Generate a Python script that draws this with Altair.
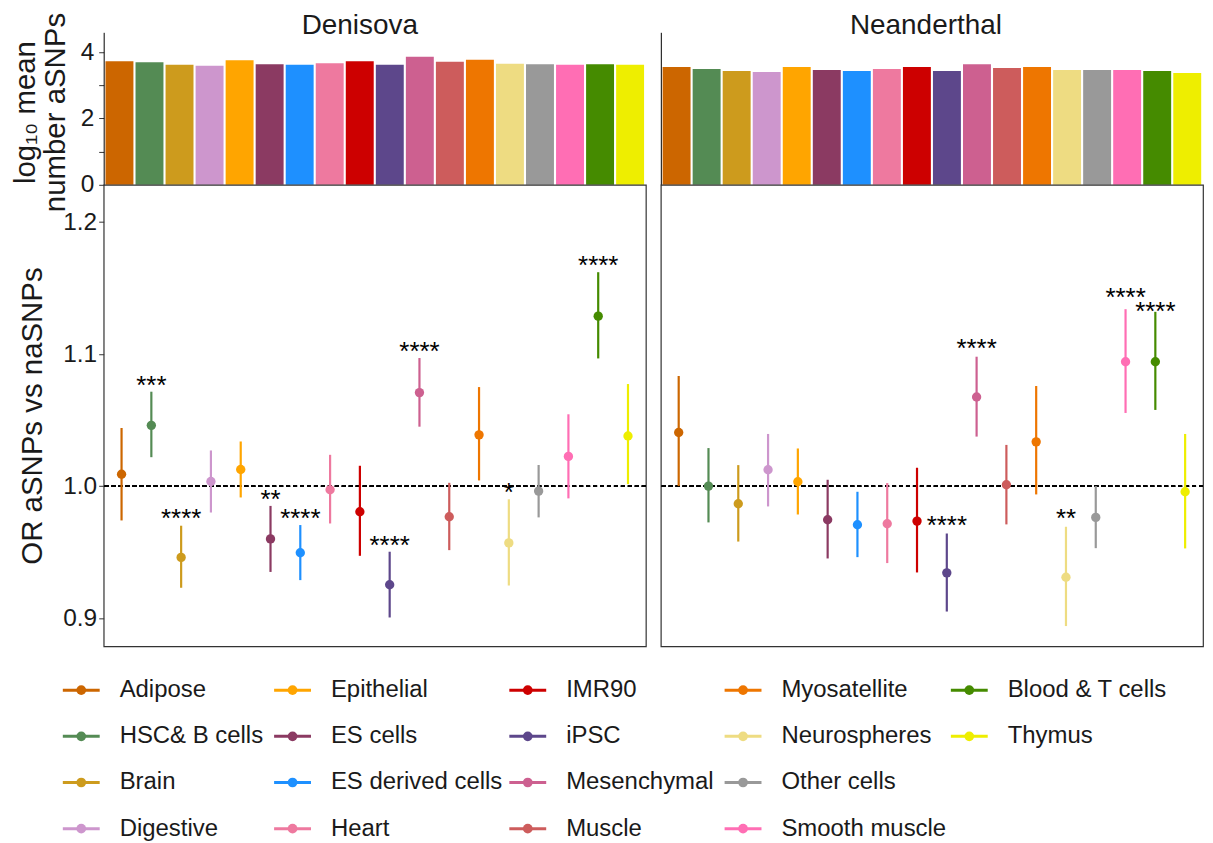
import altair as alt
import pandas as pd

FONT = "Liberation Sans"
INK = "#1a1a1a"

cells = ["Adipose", "HSC& B cells", "Brain", "Digestive", "Epithelial", "ES cells",
         "ES derived cells", "Heart", "IMR90", "iPSC", "Mesenchymal", "Muscle",
         "Myosatellite", "Neurospheres", "Other cells", "Smooth muscle",
         "Blood & T cells", "Thymus"]
palette = ["#CC6600", "#548B54", "#CD9B1D", "#CD96CD", "#FFA500", "#8B3A62",
           "#1E90FF", "#EE799F", "#CD0000", "#5D478B", "#CD6090", "#CD5C5C",
           "#EE7600", "#EEDC82", "#999999", "#FF6EB4", "#458B00", "#EEEE00"]

# log10 mean number of aSNPs
den_bar = [3.73, 3.70, 3.62, 3.59, 3.76, 3.64, 3.62, 3.67, 3.73, 3.62, 3.86, 3.71,
           3.77, 3.65, 3.64, 3.62, 3.64, 3.62]
nea_bar = [3.55, 3.49, 3.43, 3.40, 3.55, 3.46, 3.43, 3.49, 3.55, 3.43, 3.64, 3.52,
           3.55, 3.46, 3.46, 3.46, 3.43, 3.37]

# odds ratios with confidence intervals
den_or = [1.009, 1.046, 0.946, 1.0035, 1.0126, 0.960, 0.9495, 0.9972, 0.9806, 0.9253,
          1.0708, 0.9768, 1.0388, 0.957, 0.9962, 1.0225, 1.1287, 1.038]
den_lo = [0.974, 1.0219, 0.923, 0.980, 0.9914, 0.935, 0.9288, 0.9717, 0.9472, 0.9005,
          1.045, 0.9515, 1.0043, 0.9247, 0.9763, 0.9907, 1.0967, 1.0015]
den_hi = [1.044, 1.0715, 0.970, 1.027, 1.0338, 0.985, 0.9705, 1.0237, 1.0154, 0.9503,
          1.097, 1.0025, 1.075, 0.990, 1.016, 1.0544, 1.162, 1.0773]
den_sig = ["", "***", "****", "", "", "**", "****", "", "", "****", "****", "", "",
           "*", "", "", "****", ""]
den_sig_y = [None, 1.0812, 0.980, None, None, 0.9947, 0.980, None, None, 0.960, 1.1069,
             None, None, 0.9997, None, None, 1.1718, None]

nea_or = [1.0406, 1.0, 0.9866, 1.0124, 1.0033, 0.9745, 0.9707, 0.9715, 0.9735, 0.9343,
          1.0675, 1.001, 1.0335, 0.931, 0.9763, 1.0942, 1.0942, 0.9957]
nea_lo = [1.0, 0.9725, 0.958, 0.9846, 0.9785, 0.9452, 0.9462, 0.9417, 0.9346, 0.905,
          1.0375, 0.971, 0.9937, 0.894, 0.953, 1.0554, 1.0577, 0.9528]
nea_hi = [1.0834, 1.0288, 1.0159, 1.0395, 1.0285, 1.0048, 0.9957, 1.0023, 1.0139, 0.9641,
          1.098, 1.0312, 1.0758, 0.9692, 1.0, 1.134, 1.132, 1.0395]
nea_sig = ["", "", "", "", "", "", "", "", "", "****", "****", "", "", "**", "", "****",
           "****", ""]
nea_sig_y = [None, None, None, None, None, None, None, None, None, 0.975, 1.1091, None,
             None, 0.980, None, 1.1474, 1.1368, None]

panels = ["Denisova", "Neanderthal"]


def frame(bar, orv, lo, hi, sig, sig_y):
    return pd.DataFrame({"cell": cells, "bar": bar, "or": orv, "lo": lo, "hi": hi,
                         "sig": sig, "sig_y": sig_y})


den_df = frame(den_bar, den_or, den_lo, den_hi, den_sig, den_sig_y)
nea_df = frame(nea_bar, nea_or, nea_lo, nea_hi, nea_sig, nea_sig_y)

color_scale = alt.Scale(domain=cells, range=palette)
color_enc = alt.Color("cell:N", scale=color_scale, legend=None)

PW = 544
TICK_FS = 24.5
TITLE_FS = 29.5


def bar_chart(df, title, dx, first):
    if first:
        yaxis = alt.Axis(values=[0, 1, 2, 3, 4],
                         labelExpr="datum.value % 2 == 0 ? datum.label : ''",
                         tickSize=5, tickColor="#333333", domainColor="#000000",
                         labelFontSize=TICK_FS, labelFont=FONT, labelColor=INK,
                         labelPadding=5, grid=False,
                         title=["log\u2081\u2080 mean", "number aSNPs"],
                         titleFont=FONT, titleFontSize=TITLE_FS, titleFontWeight="normal",
                         titleColor=INK, titleLineHeight=30, titleAngle=-90,
                         titleBaseline="alphabetic", titleX=-69, titleY=80)
    else:
        yaxis = alt.Axis(labels=False, ticks=False, title=None, grid=False,
                         domainColor="#000000")
    bars = alt.Chart(df).mark_bar().encode(
        x=alt.X("cell:N", sort=cells, axis=None,
                scale=alt.Scale(paddingInner=0.07, paddingOuter=0.06)),
        y=alt.Y("bar:Q", scale=alt.Scale(domain=[0, 4.6], nice=False), axis=yaxis),
        color=color_enc,
    )
    head = alt.Chart(pd.DataFrame({"panel": [title]})).mark_text(
        fontSize=28, font=FONT, color=INK, baseline="alphabetic", align="center"
    ).encode(text="panel:N", x=alt.value(PW / 2 + dx), y=alt.value(2))
    return alt.layer(bars, head).properties(
        width=PW, height=153, view=alt.ViewBackground(stroke=None))


def or_chart(df, first):
    yscale = alt.Scale(domain=[0.8787, 1.2282], nice=False, zero=False)
    if first:
        yaxis = alt.Axis(values=[0.9, 1.0, 1.1, 1.2], format=".1f", tickSize=5,
                         tickColor="#333333", domain=False, grid=False,
                         labelFontSize=TICK_FS, labelFont=FONT, labelColor=INK,
                         labelPadding=2,
                         title="OR aSNPs vs naSNPs", titleFont=FONT, titleFontSize=TITLE_FS,
                         titleFontWeight="normal", titleColor=INK, titleAngle=-90,
                         titleBaseline="alphabetic", titleX=-62)
    else:
        yaxis = alt.Axis(labels=False, ticks=False, domain=False, grid=False, title=None)
    xp = alt.X("cell:N", sort=cells, axis=None, scale=alt.Scale(type="point", padding=0.6))
    base = alt.Chart(df).encode(x=xp)
    rules = base.mark_rule(strokeWidth=2.2).encode(
        y=alt.Y("lo:Q", scale=yscale, axis=yaxis), y2="hi:Q", color=color_enc)
    ref = alt.Chart(df).mark_rule(strokeDash=[4, 3], color="#000000", strokeWidth=1).encode(
        y=alt.datum(1.0))
    pts = base.mark_point(filled=True, size=88, opacity=1).encode(y="or:Q", color=color_enc)
    stars = base.transform_filter("datum.sig != ''").mark_text(
        fontSize=26, font=FONT, color="#000000", baseline="alphabetic", dy=15
    ).encode(y="sig_y:Q", text="sig:N")
    return alt.layer(ref, rules, pts, stars).properties(
        width=PW, height=463,
        view=alt.ViewBackground(stroke="#333333", strokeWidth=1.2))


leg_cols = [cells[0:4], cells[4:8], cells[8:12], cells[12:16], cells[16:18]]
leg_widths = [212, 236, 216, 227, 200]


def legend_col(names, w):
    df = pd.DataFrame({"cell": names, "row": list(range(len(names)))})
    ys = alt.Y("row:Q", axis=None,
               scale=alt.Scale(domain=[-0.93, 3], reverse=True, nice=False, zero=False))
    base = alt.Chart(df).encode(y=ys)
    line = base.mark_rule(strokeWidth=3).encode(
        x=alt.value(-41), x2=alt.value(-4), color=color_enc)
    dot = base.mark_point(filled=True, size=95, opacity=1).encode(
        x=alt.value(-22.5), color=color_enc)
    txt = base.mark_text(align="left", baseline="middle", fontSize=24, font=FONT,
                         color=INK).encode(x=alt.value(16), text="cell:N")
    return alt.layer(line, dot, txt).properties(
        width=w, height=182, view=alt.ViewBackground(stroke=None))


left_col = alt.vconcat(bar_chart(den_df, panels[0], -15, True), or_chart(den_df, True),
                       spacing=0, bounds="flush")
right_col = alt.vconcat(bar_chart(nea_df, panels[1], -6, False), or_chart(nea_df, False),
                        spacing=0, bounds="flush")
panels_row = alt.hconcat(left_col, right_col, spacing=11)
legend_row = alt.hconcat(*[legend_col(n, w) for n, w in zip(leg_cols, leg_widths)],
                         spacing=0, bounds="flush")

chart = alt.vconcat(panels_row, legend_row, spacing=0).properties(
    padding={"left": 3, "top": 2, "right": 0, "bottom": 0}
).configure_view(stroke=None).configure(font=FONT)

chart.save("out.html", embed_options={"renderer": "svg", "actions": False})
